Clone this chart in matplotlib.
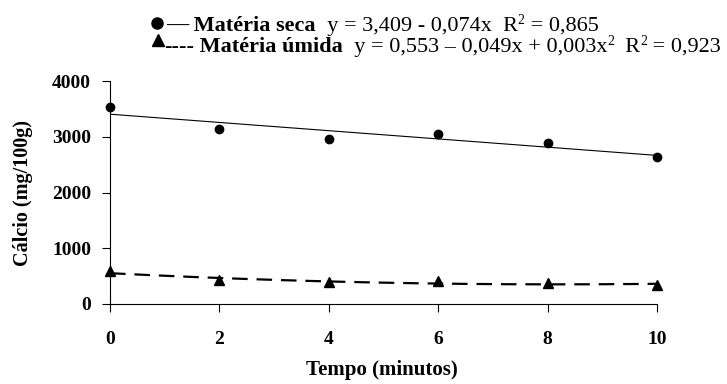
import matplotlib
matplotlib.use("Agg")
import matplotlib.pyplot as plt
import numpy as np
from matplotlib.lines import Line2D

tempo = [0, 2, 4, 6, 8, 10]
materia_seca = [3540, 3150, 2955, 3060, 2900, 2635]
materia_umida = [590, 430, 400, 405, 375, 340]
seca_coef = [3409, -74]          # y = a + b x (scaled x1000)
umida_coef = [553, -49, 3]       # y = a + b x + c x^2 (scaled x1000)
xticks = [0, 2, 4, 6, 8, 10]
yticks = [0, 1000, 2000, 3000, 4000]

serif = ['Liberation Serif', 'DejaVu Serif']
plt.rcParams['font.family'] = serif

W, H = 727, 384
fig = plt.figure(figsize=(7.27, 3.84), dpi=100)
ax = fig.add_axes([110/W, 1-304/H, (657-110)/W, (304-81.3)/H])

xs = np.linspace(0, 10, 200)
ax.plot(xs, seca_coef[0] + seca_coef[1]*xs, color='black', lw=0.8)
ax.plot(xs, umida_coef[0] + umida_coef[1]*xs + umida_coef[2]*xs**2,
        color='black', lw=1.6, dashes=(7, 4))
ax.plot(tempo, materia_seca, 'o', color='black', ms=6, clip_on=False)
ax.plot(tempo, materia_umida, '^', color='black', ms=6.5, clip_on=False)

ax.set_xlim(0, 10)
ax.set_ylim(0, 4000)
ax.set_xticks(xticks)
ax.set_yticks(yticks)
for s in ['top', 'right']:
    ax.spines[s].set_visible(False)
for s in ['left', 'bottom']:
    ax.spines[s].set_linewidth(0.8)
ax.tick_params(direction='out', length=5.5, width=0.8, labelsize=14)
ax.tick_params(axis='y', pad=8)
ax.tick_params(axis='x', pad=14)
for lab in ax.get_xticklabels() + ax.get_yticklabels():
    lab.set_fontweight('bold')

fig.text(23/W, 1-193/H, 'Cálcio (mg/100g)', rotation=90, fontsize=14.5,
         fontweight='bold', ha='center', va='center')
fig.text(382/W, 1-370/H, 'Tempo (minutos)', fontsize=15,
         fontweight='bold', ha='center', va='center')

# header with equations
fig.add_artist(Line2D([156.7/W], [1-23/H], marker='o', color='black', ms=8, ls='none'))
fig.add_artist(Line2D([158/W], [1-40/H], marker='^', color='black', ms=8, ls='none'))

renderer = fig.canvas.get_renderer()
fs = 16

def chain(x0, y0, parts):
    x = x0
    for txt, w, size, dy in parts:
        t = fig.text(x/W, 1-(y0+dy)/H, txt, fontsize=size, fontweight=w,
                     ha='left', va='baseline')
        bb = t.get_window_extent(renderer)
        x = bb.x1
    return x

sup = fs*0.62
chain(166, 31, [('—', 'bold', fs, 0), (' Matéria seca', 'bold', fs, 0),
                ('  y = 3,409 - 0,074x  R', 'normal', fs, 0),
                ('2', 'normal', sup, -7), (' = 0,865', 'normal', fs, 0)])
chain(164, 52, [('----', 'bold', fs, 0), (' Matéria úmida', 'bold', fs, 0),
                ('  y = 0,553 – 0,049x + 0,003x', 'normal', fs, 0),
                ('2', 'normal', sup, -7), ('  R', 'normal', fs, 0),
                ('2', 'normal', sup, -7), (' = 0,923', 'normal', fs, 0)])

fig.savefig('out.png', dpi=100)
